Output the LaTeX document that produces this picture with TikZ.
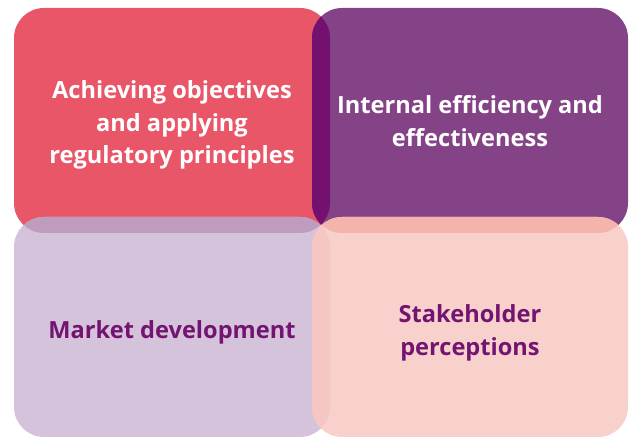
\documentclass[tikz,border=0pt]{standalone}
\usepackage{fontspec}
\setmainfont{Open Sans}
\definecolor{cred}{HTML}{E85668}
\definecolor{cpurple}{HTML}{844386}
\definecolor{clav}{HTML}{D5C3DB}
\definecolor{cpink}{HTML}{F8D1CC}
\definecolor{cab}{HTML}{74106F}
\definecolor{cac}{HTML}{BF9BBE}
\definecolor{cbd}{HTML}{F5B3AE}
\definecolor{ccd}{HTML}{F5C6C4}
\definecolor{ctext}{HTML}{741471}
\tikzset{
  rbox/.style={rounded corners=30pt},
  lbl/.style={font=\bfseries\fontsize{23.6}{32.5}\selectfont, align=center},
}
\newcommand{\boxA}{(14pt,206pt) rectangle (330pt,431pt)}
\newcommand{\boxB}{(312pt,206pt) rectangle (628pt,431pt)}
\newcommand{\boxC}{(14pt,2pt) rectangle (330pt,222pt)}
\newcommand{\boxD}{(312pt,2pt) rectangle (628pt,222pt)}
\begin{document}
\begin{tikzpicture}[x=1pt,y=1pt]
\useasboundingbox (0,0) rectangle (633,439);
\fill[cred,rbox] \boxA;
\fill[cpurple,rbox] \boxB;
\fill[clav,rbox] \boxC;
\fill[cpink,rbox] \boxD;
\begin{scope}\path[clip,rbox] \boxA; \fill[cab,rbox] \boxB; \end{scope}
\begin{scope}\path[clip,rbox] \boxA; \fill[cac,rbox] \boxC; \end{scope}
\begin{scope}\path[clip,rbox] \boxB; \fill[cbd,rbox] \boxD; \end{scope}
\begin{scope}\path[clip,rbox] \boxC; \fill[ccd,rbox] \boxD; \end{scope}
\node[lbl,text=white] (a) at (172,314) {Achieving objectives\\and applying\\regulatory principles};
\node[lbl,text=white] (b) at (470,318) {Internal efficiency and\\effectiveness};
\node[lbl,text=ctext] (c) at (172,107) {Market development};
\node[lbl,text=ctext] (d) at (470,106) {Stakeholder\\perceptions};
\end{tikzpicture}
\end{document}
